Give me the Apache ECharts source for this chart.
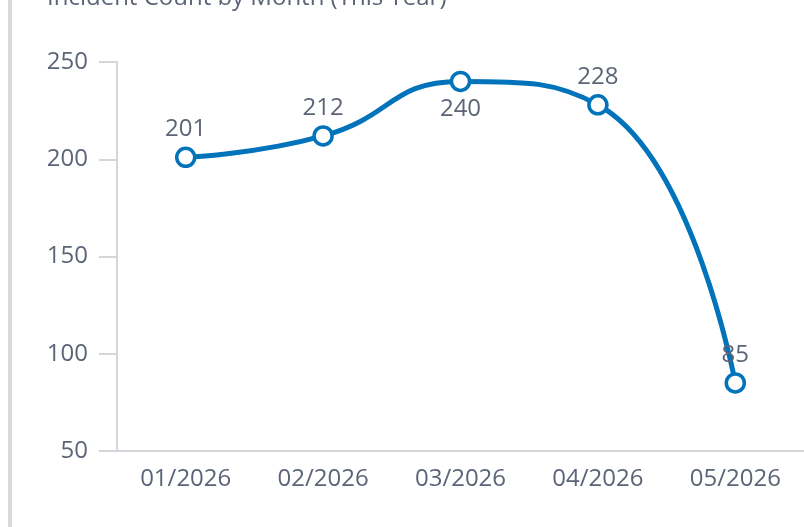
<!DOCTYPE html>
<html>
<head>
<meta charset="utf-8">
<script src="https://cdn.jsdelivr.net/npm/echarts@6/dist/echarts.min.js"></script>
<style>
html,body{margin:0;padding:0;background:#fff;}
#bar{position:absolute;left:8px;top:0;width:4px;height:527px;background:#d9d9d9;}
#chart{position:absolute;left:0;top:0;width:804px;height:527px;}
</style>
</head>
<body>
<div id="bar"></div>
<div id="chart"></div>
<script>
const titleText = 'Incident Count by Month (This Year)';
const categories = ['01/2026', '02/2026', '03/2026', '04/2026', '05/2026'];
const incidents = [201, 212, 240, 228, 85];
const labelPositions = ['top', 'top', 'bottom', 'top', 'top'];
const yTicks = { min: 50, max: 250, interval: 50 };

const textColor = '#5c6577';
const lineColor = '#0073bb';
const axisColor = '#d5d5dc';
const font = 'Open Sans';

const chart = echarts.init(document.getElementById('chart'));
chart.setOption({
  animation: false,
  title: {
    text: titleText,
    left: 42,
    top: -19,
    textStyle: { fontFamily: font, fontSize: 24, fontWeight: 'normal', color: textColor }
  },
  grid: { left: 117, right: 0, top: 62, bottom: 76 },
  xAxis: {
    type: 'category',
    data: categories,
    boundaryGap: true,
    axisLine: { show: true, lineStyle: { color: axisColor, width: 2 } },
    axisTick: { show: false },
    axisLabel: { fontFamily: font, fontSize: 24, color: textColor, margin: 16 }
  },
  yAxis: {
    type: 'value',
    min: yTicks.min,
    max: yTicks.max,
    interval: yTicks.interval,
    axisLine: { show: true, lineStyle: { color: axisColor, width: 2 } },
    axisTick: { show: true, length: 18, lineStyle: { color: axisColor, width: 2 } },
    splitLine: { show: false },
    axisLabel: { fontFamily: font, fontSize: 24, color: textColor, margin: 29 }
  },
  series: [{
    type: 'line',
    data: incidents.map((v, i) => ({ value: v, label: { position: labelPositions[i] } })),
    smooth: true,
    symbol: 'circle',
    symbolSize: 18,
    lineStyle: { color: lineColor, width: 5 },
    itemStyle: { color: '#fff', borderColor: lineColor, borderWidth: 3.5 },
    label: { show: true, fontFamily: font, fontSize: 24, color: textColor, distance: 5 }
  }]
});
</script>
</body>
</html>
